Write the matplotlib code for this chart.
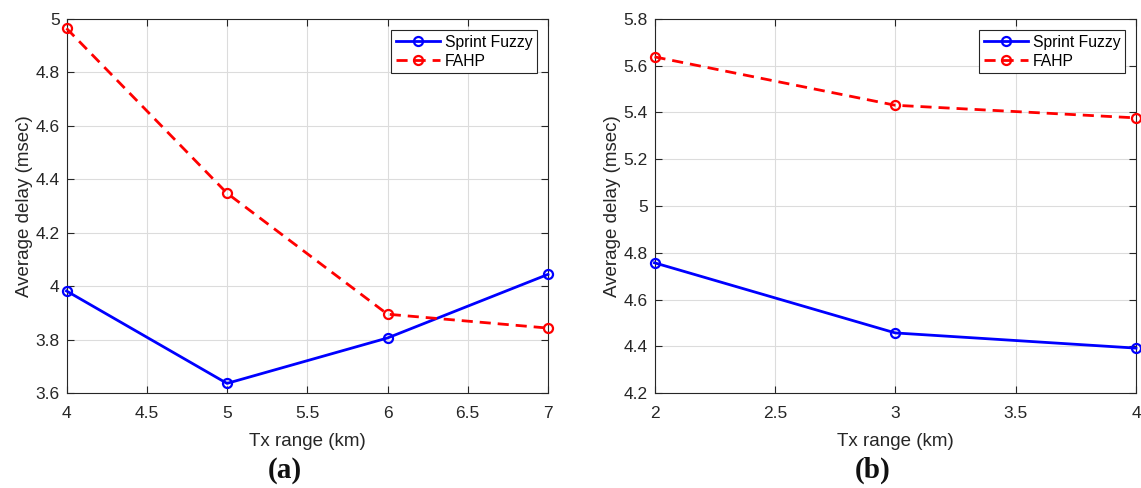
import matplotlib
matplotlib.use("Agg")
import matplotlib.pyplot as plt

# Data
x_a = [4, 5, 6, 7]
sprint_a = [3.982, 3.636, 3.806, 4.044]
fahp_a = [4.965, 4.348, 3.895, 3.843]

x_b = [2, 3, 4]
sprint_b = [4.757, 4.457, 4.392]
fahp_b = [5.638, 5.431, 5.377]

xticks_a = [4, 4.5, 5, 5.5, 6, 6.5, 7]
yticks_a = [3.6, 3.8, 4, 4.2, 4.4, 4.6, 4.8, 5]
xticks_b = [2, 2.5, 3, 3.5, 4]
yticks_b = [4.2, 4.4, 4.6, 4.8, 5, 5.2, 5.4, 5.6, 5.8]

plt.rcParams['font.family'] = ['Liberation Sans', 'DejaVu Sans']

fig = plt.figure(figsize=(11.41, 4.88), dpi=100)
W, H = 1141, 488
axA = fig.add_axes([66.5 / W, 1 - 393 / H, 481.5 / W, 374 / H])
axB = fig.add_axes([654.5 / W, 1 - 393 / H, 481.5 / W, 374 / H])

def fmt(v):
    return '%g' % v

for ax, x, s, f, xt, yt, lab in [
    (axA, x_a, sprint_a, fahp_a, xticks_a, yticks_a, '(a)'),
    (axB, x_b, sprint_b, fahp_b, xticks_b, yticks_b, '(b)'),
]:
    ax.plot(x, s, '-', color='#0000ff', lw=2, marker='o', ms=6.5,
            mfc='none', mew=1.6, label='Sprint Fuzzy', clip_on=False, zorder=3)
    ax.plot(x, f, '--', color='#ff0000', lw=2, marker='o', ms=6.5,
            mfc='none', mew=1.6, label='FAHP', dashes=(4, 2.5), clip_on=False, zorder=3)
    ax.set_xlim(xt[0], xt[-1])
    ax.set_ylim(yt[0], yt[-1])
    ax.set_xticks(xt)
    ax.set_yticks(yt)
    ax.set_xticklabels([fmt(v) for v in xt])
    ax.set_yticklabels([fmt(v) for v in yt])
    ax.grid(True, color='#dcdcdc', lw=0.8)
    ax.set_axisbelow(True)
    ax.tick_params(direction='in', top=True, right=True, length=5,
                   labelsize=12.5, colors='#262626', width=0.8)
    ax.tick_params(axis='x', pad=9)
    ax.tick_params(axis='y', pad=5)
    for sp in ax.spines.values():
        sp.set_color('#262626')
        sp.set_linewidth(0.8)
    ax.set_xlabel('Tx range (km)', fontsize=13.5, color='#262626', labelpad=9)
    ax.set_ylabel('Average delay (msec)', fontsize=13.5, color='#262626', labelpad=2)
    leg = ax.legend(loc='upper right', fontsize=11.3, frameon=True, fancybox=False,
                    edgecolor='#262626', framealpha=1, borderpad=0.3,
                    handlelength=2.8, handletextpad=0.3, borderaxespad=0.7,
                    labelspacing=0.25)
    leg.get_frame().set_linewidth(0.8)
    ax.text(0.5 - 22.5 / 481.5, -(470 - 393) / 374, lab, transform=ax.transAxes,
            ha='center', va='center', fontsize=21, fontweight='bold',
            family='Liberation Serif', color='#111111')

fig.savefig('out.png', dpi=100)
